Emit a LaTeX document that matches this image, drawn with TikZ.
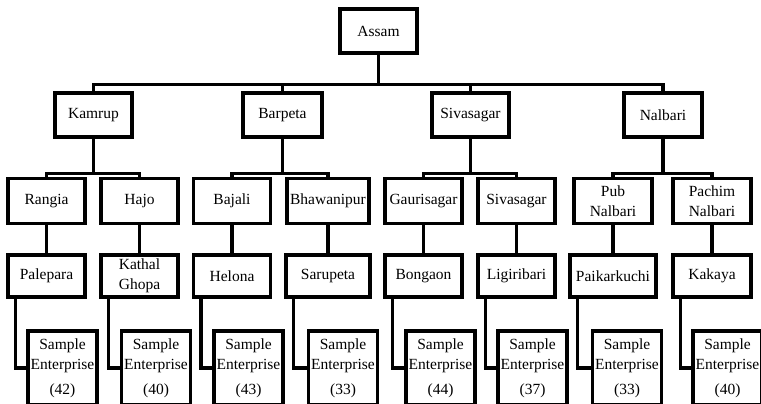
\documentclass[tikz,border=0pt]{standalone}
\usepackage{fontspec}
\setmainfont{Liberation Serif}

\begin{document}
\begin{tikzpicture}[x=1pt,y=-1pt,line width=3.2pt,
  box/.style={draw,minimum width=77pt,minimum height=44pt,inner sep=1pt,align=center,
    font=\fontsize{15.5}{20}\selectfont},
  sample/.style={draw,minimum width=69pt,minimum height=74pt,inner sep=0pt,align=center,
    font=\fontsize{15.5}{20}\selectfont}]
  \useasboundingbox (0,0) rectangle (761,404);
  \node[box] (assam) at (378.5,31) {Assam};

  \node[box] (kamrup) at (93.5,115) {Kamrup};
  \node[box,minimum width=79pt] (barpeta) at (282.5,115) {Barpeta};
  \node[box] (sivasagar) at (470.5,115) {Sivasagar};
  \node[box,minimum width=78pt] (nalbari) at (663,115) {Nalbari};

  \node[box,minimum height=45pt] (rangia) at (46.5,201) {Rangia};
  \node[box,minimum height=45pt] (hajo) at (139.5,201) {Hajo};
  \node[box,minimum height=45pt] (bajali) at (232,201) {Bajali};
  \node[box,minimum height=45pt,minimum width=82pt] (bhawanipur) at (328,201) {Bhawanipur};
  \node[box,minimum height=45pt] (gaurisagar) at (423.5,201) {Gaurisagar};
  \node[box,minimum height=45pt] (sivasagartown) at (516.5,201) {Sivasagar};
  \node[box,minimum height=45pt,minimum width=78pt] (pubnalbari) at (613,201) {Pub\\Nalbari};
  \node[box,minimum height=45pt,minimum width=78pt] (pachimnalbari) at (712,201) {Pachim\\Nalbari};

  \node[box,minimum height=42pt] (palepara) at (46.5,276) {Palepara};
  \node[box,minimum height=42pt] (kathalghopa) at (139.5,276) {Kathal\\Ghopa};
  \node[box,minimum height=42pt] (helona) at (232,276) {Helona};
  \node[box,minimum height=42pt,minimum width=84pt] (sarupeta) at (328,276) {Sarupeta};
  \node[box,minimum height=42pt] (bongaon) at (423.5,276) {Bongaon};
  \node[box,minimum height=42pt] (ligiribari) at (516.5,276) {Ligiribari};
  \node[box,minimum height=42pt,minimum width=86pt] (paikarkuchi) at (613,276) {Paikarkuchi};
  \node[box,minimum height=42pt,minimum width=78pt] (kakaya) at (712,276) {Kakaya};

  \node[sample] (samplea) at (62.5,368) {Sample\\Enterprise\\[5pt](42)};
  \node[sample] (sampleb) at (156,368) {Sample\\Enterprise\\[5pt](40)};
  \node[sample] (samplec) at (248.5,368) {Sample\\Enterprise\\[5pt](43)};
  \node[sample] (sampled) at (343,368) {Sample\\Enterprise\\[5pt](33)};
  \node[sample] (samplee) at (440.5,368) {Sample\\Enterprise\\[5pt](44)};
  \node[sample] (samplef) at (532.5,368) {Sample\\Enterprise\\[5pt](37)};
  \node[sample] (sampleg) at (627,368) {Sample\\Enterprise\\[5pt](33)};
  \node[sample] (sampleh) at (727.5,368) {Sample\\Enterprise\\[5pt](40)};

  \draw (assam.south) -- ++(0,30) -| (kamrup.north);
  \draw (assam.south) -- ++(0,30) -| (barpeta.north);
  \draw (assam.south) -- ++(0,30) -| (sivasagar.north);
  \draw (assam.south) -- ++(0,30) -| (nalbari.north);

  \draw (kamrup.south) -- ++(0,35) -| (rangia.north);
  \draw (kamrup.south) -- ++(0,35) -| (hajo.north);
  \draw (barpeta.south) -- ++(0,35) -| (bajali.north);
  \draw (barpeta.south) -- ++(0,35) -| (bhawanipur.north);
  \draw (sivasagar.south) -- ++(0,35) -| (gaurisagar.north);
  \draw (sivasagar.south) -- ++(0,35) -| (sivasagartown.north);
  \draw (nalbari.south) -- ++(0,35) -| (pubnalbari.north);
  \draw (nalbari.south) -- ++(0,35) -| (pachimnalbari.north);

  \draw (rangia) -- (palepara);
  \draw (hajo) -- (kathalghopa);
  \draw (bajali) -- (helona);
  \draw (bhawanipur) -- (sarupeta);
  \draw (gaurisagar) -- (bongaon);
  \draw (sivasagartown) -- (ligiribari);
  \draw (pubnalbari) -- (paikarkuchi);
  \draw (pachimnalbari) -- (kakaya);

  \draw ([xshift=9pt]palepara.south west) |- (samplea.west);
  \draw ([xshift=9pt]kathalghopa.south west) |- (sampleb.west);
  \draw ([xshift=9pt]helona.south west) |- (samplec.west);
  \draw ([xshift=9pt]sarupeta.south west) |- (sampled.west);
  \draw ([xshift=9pt]bongaon.south west) |- (samplee.west);
  \draw ([xshift=9pt]ligiribari.south west) |- (samplef.west);
  \draw ([xshift=9pt]paikarkuchi.south west) |- (sampleg.west);
  \draw ([xshift=9pt]kakaya.south west) |- (sampleh.west);
\end{tikzpicture}
\end{document}
